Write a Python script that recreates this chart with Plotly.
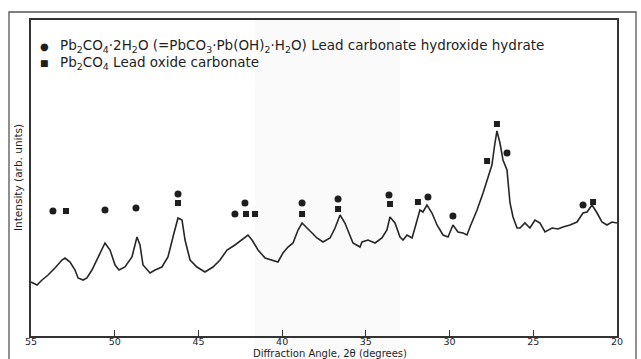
import plotly.graph_objects as go

# Diffraction pattern (2θ in degrees, intensity in arbitrary units)
two_theta = [55.0, 54.64, 54.34, 53.98, 53.57, 53.15, 52.97, 52.67, 52.37, 52.19, 51.89, 51.66,
             51.36, 51.00, 50.58, 50.28, 49.98, 49.74, 49.39, 48.97, 48.67, 48.49, 48.31, 47.89,
             47.59, 47.18, 46.82, 46.52, 46.22, 45.98, 45.80, 45.50, 45.09, 44.61, 44.13, 43.71,
             43.29, 42.82, 42.40, 42.04, 41.80, 41.44, 41.02, 40.61, 40.25, 39.95, 39.65, 39.35,
             39.05, 38.81, 38.52, 38.22, 37.92, 37.56, 37.14, 36.84, 36.54, 36.25, 35.95, 35.77,
             35.35, 35.23, 34.87, 34.45, 34.04, 33.74, 33.56, 33.26, 32.96, 32.78, 32.54, 32.24,
             32.07, 31.77, 31.59, 31.35, 31.05, 30.75, 30.39, 30.09, 29.80, 29.50, 29.20, 28.96,
             28.78, 28.36, 28.00, 27.71, 27.47, 27.29, 27.17, 26.99, 26.81, 26.57, 26.39, 26.21,
             25.97, 25.79, 25.50, 25.20, 24.90, 24.60, 24.30, 23.88, 23.52, 23.23, 22.81, 22.39,
             22.03, 21.79, 21.49, 21.19, 20.90, 20.60, 20.30, 20.00]
intensity = [54, 51, 56, 61, 68, 76, 78, 74, 66, 58, 56, 58,
             66, 78, 93, 86, 71, 66, 69, 79, 99, 91, 71, 63,
             66, 69, 79, 99, 118, 116, 96, 76, 69, 64, 69, 76,
             86, 91, 96, 101, 96, 86, 78, 76, 74, 83, 89, 93,
             106, 113, 108, 103, 98, 94, 98, 108, 121, 113, 101, 93,
             89, 94, 96, 93, 98, 106, 119, 113, 99, 96, 101, 98,
             108, 126, 124, 131, 123, 111, 101, 99, 111, 104, 103, 101,
             109, 126, 143, 159, 171, 193, 205, 193, 176, 166, 133, 119,
             108, 108, 113, 108, 116, 113, 104, 108, 107, 109, 111, 114,
             123, 124, 131, 123, 114, 111, 114, 113]

# Peak assignments: Pb2CO4·2H2O (circles)
hydrate_theta = [53.69, 50.58, 48.73, 46.22, 42.82, 42.22, 38.81, 36.66, 33.62, 31.29, 29.80, 26.57, 22.03]
hydrate_y = [125, 126, 128, 142, 122, 133, 133, 137, 141, 139, 120, 183, 131]
# Pb2CO4 lead oxide carbonate (squares)
oxide_theta = [52.91, 46.22, 42.16, 41.62, 38.81, 36.66, 33.56, 31.89, 27.76, 27.17, 21.43]
oxide_y = [125, 133, 122, 122, 122, 127, 132, 134, 175, 212, 134]

x_ticks = [55, 50, 45, 40, 35, 30, 25, 20]

FONT = "DejaVu Sans"
INK = "#1e1e1e"

fig = go.Figure()
fig.add_trace(go.Scatter(x=two_theta, y=intensity, mode="lines",
                         line=dict(color="#262626", width=1.6), showlegend=False))
fig.add_trace(go.Scatter(x=hydrate_theta, y=hydrate_y, mode="markers",
                         marker=dict(symbol="circle", size=7, color=INK), showlegend=False))
fig.add_trace(go.Scatter(x=oxide_theta, y=oxide_y, mode="markers",
                         marker=dict(symbol="square", size=6, color=INK), showlegend=False))

W, H = 641, 359
L, R, T, B = 31, 24, 20, 23
pw, ph = W - L - R, H - T - B

def px(xp):
    return (xp - L) / pw

def py(yp):
    return (H - B - yp) / ph

shapes = [
    # faint scan shading in the middle
    dict(type="rect", xref="paper", yref="paper", x0=px(255), x1=px(400), y0=py(359), y1=py(20),
         fillcolor="rgba(200,200,200,0.09)", line=dict(width=0), layer="below"),
    # outer frame of the figure
    dict(type="rect", xref="paper", yref="paper", x0=px(9), x1=px(636), y0=py(375), y1=py(12),
         line=dict(color="#555", width=1.3), fillcolor="rgba(0,0,0,0)"),
]

annotations = [
    dict(xref="paper", yref="paper", x=px(44), y=py(46), xanchor="center", yanchor="middle",
         text="●", showarrow=False, font=dict(size=10, color=INK, family=FONT)),
    dict(xref="paper", yref="paper", x=px(44), y=py(63), xanchor="center", yanchor="middle",
         text="■", showarrow=False, font=dict(size=9, color=INK, family=FONT)),
    dict(xref="paper", yref="paper", x=px(58), y=py(46), xanchor="left", yanchor="middle",
         text="Pb<sub>2</sub>CO<sub>4</sub>·2H<sub>2</sub>O (=PbCO<sub>3</sub>·Pb(OH)<sub>2</sub>·H<sub>2</sub>O) Lead carbonate hydroxide hydrate",
         showarrow=False, font=dict(size=13.5, color=INK, family=FONT)),
    dict(xref="paper", yref="paper", x=px(58), y=py(63), xanchor="left", yanchor="middle",
         text="Pb<sub>2</sub>CO<sub>4</sub> Lead oxide carbonate",
         showarrow=False, font=dict(size=13.5, color=INK, family=FONT)),
    # axis titles
    dict(xref="paper", yref="paper", x=px(330), y=py(353), xanchor="center", yanchor="middle",
         text="Diffraction Angle, 2θ (degrees)", showarrow=False,
         font=dict(size=10, color=INK, family=FONT)),
    dict(xref="paper", yref="paper", x=px(18), y=py(178), xanchor="center", yanchor="middle",
         text="Intensity (arb. units)", textangle=-90, showarrow=False,
         font=dict(size=10.5, color=INK, family=FONT)),
]

fig.update_layout(
    width=W, height=H,
    margin=dict(l=L, r=R, t=T, b=B, autoexpand=False),
    paper_bgcolor="white", plot_bgcolor="white",
    shapes=shapes, annotations=annotations,
    xaxis=dict(range=[55, 20], tickvals=x_ticks, ticktext=[str(v) for v in x_ticks],
               ticks="inside", ticklen=6, tickwidth=1.2, tickcolor="#333",
               showline=True, linecolor="#333", linewidth=1.5, mirror=True,
               showgrid=False, zeroline=False, automargin=False, ticklabelstandoff=-4,
               tickfont=dict(size=9.5, color=INK, family=FONT)),
    yaxis=dict(range=[0, 316], showticklabels=False, ticks="",
               showline=True, linecolor="#333", linewidth=1.5, mirror=True,
               showgrid=False, zeroline=False, automargin=False),
)

fig.write_html("out.html")
